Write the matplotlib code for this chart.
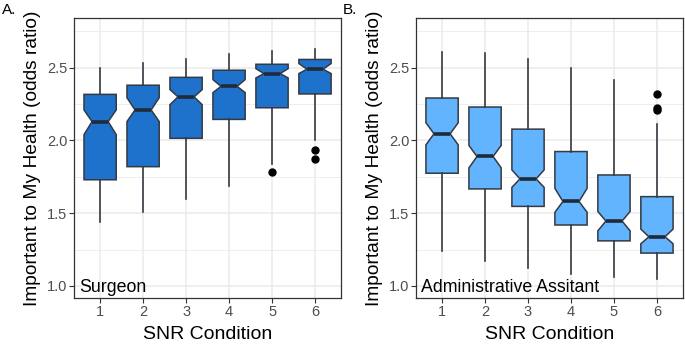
import matplotlib
matplotlib.use("Agg")
import matplotlib.pyplot as plt
from matplotlib.ticker import MultipleLocator

plt.rcParams['font.family'] = ['Liberation Sans', 'DejaVu Sans']

# SNR conditions on x axis
snr = [1, 2, 3, 4, 5, 6]

# Panel A - Surgeon
surg_whislo = [1.44, 1.51, 1.60, 1.69, 1.84, 2.00]
surg_q1     = [1.73, 1.82, 2.015, 2.145, 2.225, 2.32]
surg_cilo   = [2.04, 2.13, 2.246, 2.329, 2.43, 2.46]
surg_med    = [2.13, 2.21, 2.30, 2.372, 2.46, 2.49]
surg_cihi   = [2.21, 2.294, 2.35, 2.419, 2.494, 2.529]
surg_q3     = [2.317, 2.38, 2.434, 2.483, 2.524, 2.557]
surg_whishi = [2.50, 2.533, 2.563, 2.595, 2.616, 2.632]
surg_fliers = [[], [], [], [], [1.78], [1.938, 1.874]]

# Panel B - Administrative Assistant
admin_whislo = [1.24, 1.172, 1.122, 1.085, 1.062, 1.046]
admin_q1     = [1.775, 1.667, 1.547, 1.419, 1.31, 1.226]
admin_cilo   = [1.97, 1.812, 1.678, 1.506, 1.379, 1.29]
admin_med    = [2.046, 1.89, 1.736, 1.581, 1.446, 1.338]
admin_cihi   = [2.122, 1.966, 1.798, 1.671, 1.512, 1.391]
admin_q3     = [2.292, 2.23, 2.078, 1.924, 1.763, 1.614]
admin_whishi = [2.609, 2.60, 2.557, 2.50, 2.419, 2.115]
admin_fliers = [[], [], [], [], [], [2.322, 2.225, 2.207]]


def make_stats(lo, q1, cilo, med, cihi, q3, hi, fl):
    out = []
    for i in range(len(med)):
        out.append(dict(whislo=lo[i], q1=q1[i], cilo=cilo[i], med=med[i],
                         cihi=cihi[i], q3=q3[i], whishi=hi[i], fliers=fl[i]))
    return out


def draw_panel(ax, stats, fill, label):
    edge = '#333a42'
    ax.bxp(stats, positions=snr, widths=0.75, shownotches=True, patch_artist=True,
           showcaps=False,
           boxprops=dict(facecolor=fill, edgecolor=edge, linewidth=1.1),
           whiskerprops=dict(color=edge, linewidth=1.2),
           medianprops=dict(color='#1f2b38', linewidth=2.6),
           flierprops=dict(marker='o', markerfacecolor='black',
                           markeredgecolor='black', markersize=5),
           zorder=3)
    ax.set_xlim(0.4, 6.6)
    ax.set_ylim(0.915, 2.84)
    ax.set_xticks(snr)
    ax.set_xticklabels([str(s) for s in snr])
    ax.yaxis.set_major_locator(MultipleLocator(0.5))
    ax.yaxis.set_minor_locator(MultipleLocator(0.25))
    ax.yaxis.set_major_formatter(matplotlib.ticker.FormatStrFormatter('%.1f'))
    ax.grid(True, which='major', color='#ebebeb', linewidth=1.1, zorder=0)
    ax.grid(True, which='minor', axis='y', color='#ebebeb', linewidth=0.6, zorder=0)
    ax.set_axisbelow(True)
    ax.tick_params(which='minor', length=0)
    ax.tick_params(which='major', length=3.6, width=0.8, color='#333333',
                   labelsize=10.5, labelcolor='#4d4d4d', pad=1.5)
    for s in ax.spines.values():
        s.set_color('#333333')
        s.set_linewidth(0.9)
    ax.set_xlabel('SNR Condition', fontsize=14, labelpad=5)
    ax.set_ylabel('Important to My Health (odds ratio)', fontsize=13.8, labelpad=4)
    ax.text(0.52, 0.955, label, fontsize=12.8, va='baseline', ha='left', zorder=5)


fig = plt.figure(figsize=(6.85, 3.44), dpi=100)
axA = fig.add_axes([0.1085, 0.1328, 0.389, 0.814])
axB = fig.add_axes([0.6077, 0.1328, 0.389, 0.814])

draw_panel(axA, make_stats(surg_whislo, surg_q1, surg_cilo, surg_med,
                           surg_cihi, surg_q3, surg_whishi, surg_fliers),
           '#1f72cc', 'Surgeon')
draw_panel(axB, make_stats(admin_whislo, admin_q1, admin_cilo, admin_med,
                           admin_cihi, admin_q3, admin_whishi, admin_fliers),
           '#63b4ff', 'Administrative Assitant')

fig.text(0.0025, 0.959, 'A.', fontsize=11, va='baseline', ha='left')
fig.text(0.5, 0.959, 'B.', fontsize=11, va='baseline', ha='left')

fig.savefig('out.png', dpi=100)
